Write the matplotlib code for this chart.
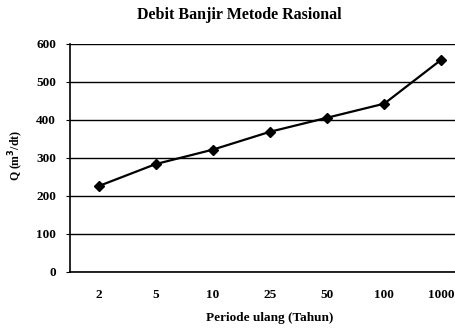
import matplotlib.pyplot as plt
import numpy as np

# Data
periode = ["2", "5", "10", "25", "50", "100", "1000"]
debit = [226, 284, 322, 369, 406, 443, 559]
y_ticks = [0, 100, 200, 300, 400, 500, 600]

plt.rcParams['font.family'] = ['Liberation Serif', 'DejaVu Serif']
plt.rcParams['font.weight'] = 'bold'

fig = plt.figure(figsize=(4.56, 3.28), dpi=100)
ax = fig.add_axes([70/456, 56/328, 400/456, 228/328])

x = np.arange(len(periode))
ax.plot(x, debit, color="black", lw=1.6, marker="D", ms=5.5, zorder=3)

ax.set_xlim(-0.5, len(periode) - 0.5)
ax.set_ylim(0, 600)
ax.set_yticks(y_ticks)
ax.set_xticks(x)
ax.set_xticklabels(periode)
ax.yaxis.grid(True, color="black", lw=1.0)
ax.set_axisbelow(True)

for s in ["top", "right"]:
    ax.spines[s].set_visible(False)
ax.spines["left"].set_linewidth(1.2)
ax.spines["bottom"].set_linewidth(1.2)

ax.tick_params(axis="x", length=0, pad=12, labelsize=9.5)
ax.tick_params(axis="y", length=3, pad=7, labelsize=9.5, direction="out")
for t in ax.get_xticklabels() + ax.get_yticklabels():
    t.set_fontweight("bold")

ax.set_ylabel("Q (m$^\\mathbf{3}$/dt)", fontsize=8.5, fontweight="bold")
ax.yaxis.set_label_coords(-0.11, 0.51)
ax.set_xlabel("Periode ulang (Tahun)", fontsize=9.5, fontweight="bold")
ax.xaxis.set_label_coords(0.5, -0.175)

fig.text(239/456, 1 - 15/328, "Debit Banjir Metode Rasional", ha="center", va="center",
         fontsize=11.5, fontweight="bold")

fig.savefig("out.png", dpi=100)
